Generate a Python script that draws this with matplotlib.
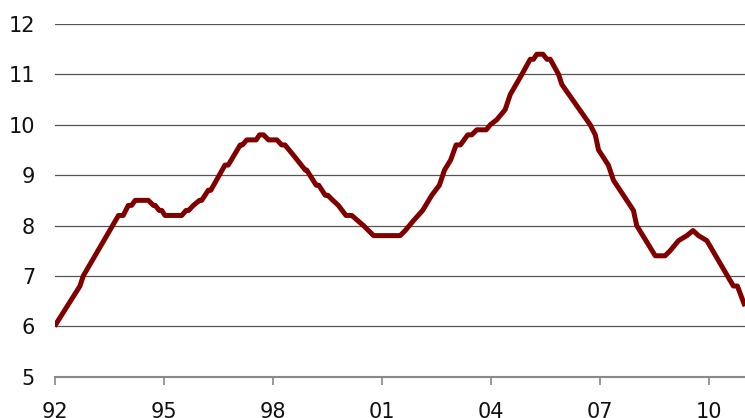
import matplotlib
matplotlib.use("Agg")
import matplotlib.pyplot as plt

# Vertices (year, value)
years = [1992.00, 1992.70, 1992.79, 1993.76, 1993.89, 1994.03, 1994.12, 1994.22, 1994.58,
         1994.72, 1994.77, 1994.88, 1994.95, 1995.04, 1995.50, 1995.62, 1995.69, 1995.82,
         1995.99, 1996.05, 1996.23, 1996.30, 1996.69, 1996.78, 1997.11, 1997.17, 1997.29,
         1997.55, 1997.64, 1997.75, 1997.89, 1998.12, 1998.25, 1998.34, 1998.57, 1998.90,
         1998.94, 1999.20, 1999.27, 1999.45, 1999.52, 1999.66, 1999.81, 2000.02, 2000.18,
         2000.50, 2000.64, 2000.78, 2001.51, 2001.65, 2001.88, 2002.13, 2002.38, 2002.59,
         2002.73, 2002.90, 2003.05, 2003.17, 2003.37, 2003.48, 2003.62, 2003.88, 2003.99,
         2004.17, 2004.40, 2004.54, 2004.86, 2005.09, 2005.18, 2005.27, 2005.44, 2005.55,
         2005.64, 2005.87, 2005.96, 2006.74, 2006.88, 2006.97, 2007.24, 2007.38, 2007.93,
         2008.02, 2008.53, 2008.80, 2008.94, 2009.17, 2009.40, 2009.57, 2009.72, 2009.95,
         2010.68, 2010.79, 2011.00]
values = [6.0, 6.8, 7.0, 8.2, 8.2, 8.4, 8.4, 8.5, 8.5,
          8.4, 8.4, 8.3, 8.3, 8.2, 8.2, 8.3, 8.3, 8.4,
          8.5, 8.5, 8.7, 8.7, 9.2, 9.2, 9.6, 9.6, 9.7,
          9.7, 9.8, 9.8, 9.7, 9.7, 9.6, 9.6, 9.4, 9.1,
          9.1, 8.8, 8.8, 8.6, 8.6, 8.5, 8.4, 8.2, 8.2,
          8.0, 7.9, 7.8, 7.8, 7.9, 8.1, 8.3, 8.6, 8.8,
          9.1, 9.3, 9.6, 9.6, 9.8, 9.8, 9.9, 9.9, 10.0,
          10.1, 10.3, 10.6, 11.0, 11.3, 11.3, 11.4, 11.4, 11.3,
          11.3, 11.0, 10.8, 10.0, 9.8, 9.5, 9.2, 8.9, 8.3,
          8.0, 7.4, 7.4, 7.5, 7.7, 7.8, 7.9, 7.8, 7.7,
          6.8, 6.8, 6.4]

x_ticks = [1992, 1995, 1998, 2001, 2004, 2007, 2010]
x_labels = ["92", "95", "98", "01", "04", "07", "10"]
y_ticks = [5, 6, 7, 8, 9, 10, 11, 12]

fig = plt.figure(figsize=(7.45, 4.18), dpi=100)
ax = fig.add_axes([0.0732, 0.0988, 0.9268, 0.8438])

ax.plot(years, values, color="#800000", lw=3.6, solid_joinstyle="round", solid_capstyle="butt", zorder=3)

ax.set_xlim(1992, 2011.0)
ax.set_ylim(5, 12)
ax.set_yticks(y_ticks)
ax.set_xticks(x_ticks)
ax.set_xticklabels(x_labels)

for y in y_ticks[1:]:
    ax.axhline(y, color="#555555", lw=0.9, zorder=1)

for s in ["top", "right", "left"]:
    ax.spines[s].set_visible(False)
ax.spines["bottom"].set_color("#888888")
ax.spines["bottom"].set_linewidth(1.5)

ax.tick_params(axis="y", length=0, pad=14, labelsize=15, labelcolor="#111111")
ax.tick_params(axis="x", direction="out", length=6, width=1.2, color="#888888",
               pad=12, labelsize=15, labelcolor="#111111")

fig.savefig("out.png", dpi=100)
